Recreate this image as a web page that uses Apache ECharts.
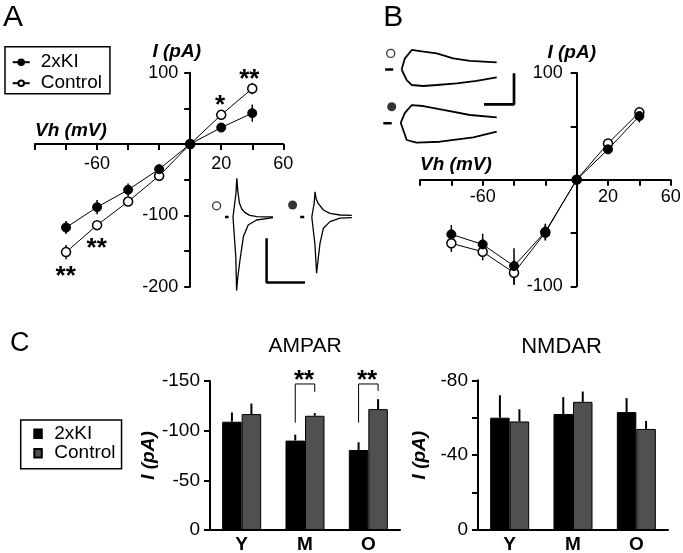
<!DOCTYPE html>
<html>
<head>
<meta charset="utf-8">
<script src="https://cdn.jsdelivr.net/npm/echarts@6/dist/echarts.min.js"></script>
<style>
html,body{margin:0;padding:0;background:#fff;}
#chart{width:683px;height:553px;}
</style>
</head>
<body>
<div id="chart"></div>
<script>
// ---------- Panel A: I-V (AMPAR) ----------
const A_VH = [-80, -60, -40, -20, 0, 20, 40];
const A_KI = [-117, -88.5, -64.2, -35.2, 0, 23.1, 43.3];
const A_KI_ERR = [9, 10, 9, 6, 2, 5, 12];
const A_CTRL = [-151.5, -113.7, -80.6, -44.6, 0, 40.9, 77.8];
const A_CTRL_ERR = [10, 5, 5, 4, 2, 5, 8];
const A_X_LABELS = [-60, 20, 60];
const A_Y_LABELS = [100, -100, -200];

// Panel A inset traces (time ms, current pA)
const A_CTRL_UP = [[7,0],[7.5,3],[7.75,120],[7.95,193],[8.2,130],[8.6,70],[9.2,40],[10,22],[11.2,8],[13,2],[17,0]];
const A_CTRL_DN = [[7,0],[7.5,-5],[7.7,-200],[7.9,-368],[8.2,-300],[8.75,-215],[9.6,-98],[10.8,-40],[12.9,-15],[16.25,-6],[17,-3]];
const A_KI_UP = [[26.7,0],[27.1,3],[27.3,70],[27.5,126],[27.8,90],[28.3,68],[29.6,35],[31.25,18],[33.75,10],[36.7,8]];
const A_KI_DN = [[26.7,0],[27.2,-5],[27.5,-140],[27.9,-281],[28.3,-210],[28.75,-132],[29.6,-56],[31.25,-23],[33.75,-6],[36.7,-3]];
const A_CTRL_MARK = [[2.9, 56]];
const A_KI_MARK = [[21.9, 60]];
const A_CTRL_STIM = [[5.0, 0], [5.9, 0]];
const A_KI_STIM = [[23.8, 0], [24.8, 0]];
const A_SCALE = [[15.4, -106], [15.4, -328], [25, -328]];

// ---------- Panel B: I-V (NMDAR) ----------
const B_VH = [-80, -60, -40, -20, 0, 20, 40];
const B_KI = [-51.3, -60.7, -81, -48.8, 0, 28.4, 59.6];
const B_KI_ERR = [8.7, 10, 16.6, 7.5, 2, 3, 6];
const B_CTRL = [-59.7, -67.6, -87.3, -49.6, 0, 34, 63.1];
const B_CTRL_ERR = [8, 8, 11.5, 7.5, 2, 3, 5];
const B_X_LABELS = [-60, 20, 60];
const B_Y_LABELS = [100, -100];

// Panel B inset traces (time ms, current pA)
const B_CTRL_UP = [[72,0],[83,18],[106,31.5],[133,29.8],[189,26],[244,18],[300,14],[389,11.6]];
const B_CTRL_DN = [[72,0],[89,-17],[106,-25],[144,-26.6],[189,-25],[256,-22.3],[322,-18.5],[389,-12.6]];
const B_KI_UP = [[69,-86],[83,-70],[106,-57.3],[144,-58.9],[211,-65.3],[300,-73.4],[389,-77.1]];
const B_KI_DN = [[69,-86],[89,-113.7],[122,-118.1],[200,-116.5],[311,-109.4],[389,-100.3]];
const B_CTRL_MARK = [[35.7, 26]];
const B_KI_MARK = [[39, -60]];
const B_CTRL_STIM = [[17, 0], [44, 0]];
const B_KI_STIM = [[11, -86.8], [39, -86.8]];
const B_SCALE = [[346.7, -56.1], [446.7, -56.1], [446.7, -6.1]];

// ---------- Panel C: bar charts ----------
const C_CATS = ['Y', 'M', 'O'];
const AMPAR_KI = [-109, -90, -80.5];
const AMPAR_KI_ERR = [9.3, 6, 7.8];
const AMPAR_CTRL = [-116.7, -115, -121.7];
const AMPAR_CTRL_ERR = [10.6, 2.7, 10];
const AMPAR_BRACKETS = [[1, -108, -147, -139], [2, -108, -147, -140]]; // [cat, leftLeg, top, rightLeg]
const AMPAR_Y_LABELS = [-150, -100, -50, 0];
const NMDAR_KI = [-60, -62, -63];
const NMDAR_KI_ERR = [12, 9, 7.5];
const NMDAR_CTRL = [-58, -68.5, -54];
const NMDAR_CTRL_ERR = [6.5, 5.5, 4.3];
const NMDAR_Y_LABELS = [-80, -40, 0];

const FONT = 'Liberation Sans, Arial, Helvetica, sans-serif';
const BAR_W = 19.5;
const GREY = '#505050';

// grid boxes for the I-V plots
const GA = { left: 35, top: 72.7, width: 248.3, height: 214 };
const GB = { left: 420, top: 73, width: 250.7, height: 213.3 };
const A_XR = [-100, 60], A_YR = [-200, 100];
const B_XR = [-100, 60], B_YR = [-100, 100];

const pairs = (xs, ys) => xs.map((x, i) => [x, ys[i]]);
const triples = (xs, ys, es) => xs.map((x, i) => [x, ys[i], es[i]]);
// axis offsets so that each axis crosses the other one at zero
const xOffset = (g, yr) => -g.height * (0 - yr[0]) / (yr[1] - yr[0]);
const yOffset = (g, xr) => -g.width * (0 - xr[0]) / (xr[1] - xr[0]);

function errRender(params, api) {
  const x = api.value(0), y = api.value(1), e = api.value(2);
  const a = api.coord([x, y - e]), b = api.coord([x, y + e]);
  return { type: 'line', shape: { x1: a[0], y1: a[1], x2: b[0], y2: b[1] },
           style: { stroke: '#000', lineWidth: 1.5 } };
}
function barErrRender(offset) {
  return function (params, api) {
    const c = api.value(0), v = api.value(1), e = api.value(2);
    const p0 = api.coord([c, v]), p1 = api.coord([c, v - e]);
    const x = p0[0] + offset;
    return { type: 'line', shape: { x1: x, y1: p0[1], x2: x, y2: p1[1] },
             style: { stroke: '#000', lineWidth: 2 } };
  };
}
function bracketRender(params, api) {
  const c = api.value(0);
  const l = api.coord([c, api.value(1)]);
  const t = api.coord([c, api.value(2)]);
  const r = api.coord([c, api.value(3)]);
  const h = BAR_W / 2;
  return { type: 'polyline',
           shape: { points: [[l[0] - h, l[1]], [l[0] - h, t[1]], [l[0] + h, t[1]], [l[0] + h, r[1]]] },
           style: { stroke: '#000', lineWidth: 1, fill: null } };
}

function ivXAxis(grid, range, labels, margin, offset) {
  return {
    gridIndex: grid, type: 'value', min: range[0], max: range[1], interval: 20,
    position: 'bottom', offset: offset,
    axisLine: { onZero: false, lineStyle: { color: '#000', width: 2 } },
    axisTick: { show: true, length: 6, lineStyle: { color: '#000', width: 2 } },
    axisLabel: { margin: margin, fontSize: 18, color: '#000', fontFamily: FONT,
                 formatter: v => labels.indexOf(v) >= 0 ? String(v) : '' },
    splitLine: { show: false }
  };
}
function ivYAxis(grid, range, labels, margin, offset) {
  return {
    gridIndex: grid, type: 'value', min: range[0], max: range[1], interval: 50,
    position: 'left', offset: offset,
    axisLine: { show: true, onZero: false, lineStyle: { color: '#000', width: 2 } },
    axisTick: { show: true, length: 6, lineStyle: { color: '#000', width: 2 } },
    axisLabel: { margin: margin, fontSize: 18, color: '#000', fontFamily: FONT,
                 formatter: v => labels.indexOf(v) >= 0 ? String(v) : '' },
    splitLine: { show: false }
  };
}
function hiddenAxis(grid, min, max) {
  return { gridIndex: grid, type: 'value', min: min, max: max, show: false, splitLine: { show: false } };
}
function barXAxis(grid) {
  return {
    gridIndex: grid, type: 'category', data: C_CATS,
    axisLine: { lineStyle: { color: '#000', width: 2 } },
    axisTick: { show: false },
    axisLabel: { margin: 5, fontSize: 19, fontWeight: 'bold', color: '#000', fontFamily: FONT }
  };
}
function barYAxis(grid, min, interval, labels) {
  return {
    gridIndex: grid, type: 'value', inverse: true, min: min, max: 0, interval: interval,
    name: 'I (pA)', nameLocation: 'middle', nameRotate: 90, nameGap: 49,
    nameTextStyle: { fontSize: 19, fontWeight: 'bold', fontStyle: 'italic', color: '#000', fontFamily: FONT },
    axisLine: { show: true, lineStyle: { color: '#000', width: 2 } },
    axisTick: { show: true, length: 6, lineStyle: { color: '#000', width: 2 } },
    axisLabel: { margin: 10, fontSize: 19, color: '#000', fontFamily: FONT,
                 formatter: v => labels.indexOf(v) >= 0 ? String(v) : '' },
    splitLine: { show: false }
  };
}
function trace(name, data, xi, width) {
  return { name: name, type: 'line', xAxisIndex: xi, yAxisIndex: xi, data: data,
           symbol: 'none', lineStyle: { color: '#000', width: width || 1.3 }, z: 3, silent: true };
}
function marker(name, data, xi, filled, size) {
  return { name: name, type: 'scatter', xAxisIndex: xi, yAxisIndex: xi, data: data,
           symbol: 'circle', symbolSize: size,
           itemStyle: filled ? { color: '#000' } : { color: '#fff', borderColor: '#000', borderWidth: 1.3 }, z: 3 };
}
function txt(x, y, text, font, align) {
  return { type: 'text', x: x, y: y,
           style: { text: text, font: font, fill: '#000', align: align || 'left', verticalAlign: 'middle' } };
}
const gridOf = g => Object.assign({ outerBoundsMode: 'none', containLabel: false }, g);

const chart = echarts.init(document.getElementById('chart'), null, { renderer: 'canvas' });

const option = {
  animation: false,
  backgroundColor: '#fff',
  textStyle: { fontFamily: FONT },
  grid: [
    gridOf(GA),
    gridOf({ left: 205, top: 175, width: 150, height: 120 }),
    gridOf(GB),
    gridOf({ left: 380, top: 38.5, width: 150, height: 124 }),
    gridOf({ left: 210, top: 381, width: 190, height: 149 }),
    gridOf({ left: 478, top: 380.3, width: 190, height: 149.7 })
  ],
  xAxis: [
    ivXAxis(0, A_XR, A_X_LABELS, 11, xOffset(GA, A_YR)),
    hiddenAxis(1, 0, 37.5),
    ivXAxis(2, B_XR, B_X_LABELS, 8.5, xOffset(GB, B_YR)),
    hiddenAxis(3, 0, 500),
    barXAxis(4),
    barXAxis(5)
  ],
  yAxis: [
    ivYAxis(0, A_YR, A_Y_LABELS, 12, yOffset(GA, A_XR)),
    hiddenAxis(1, -390, 210),
    ivYAxis(2, B_YR, B_Y_LABELS, 14, yOffset(GB, B_XR)),
    hiddenAxis(3, -150, 50),
    barYAxis(4, -150, 50, AMPAR_Y_LABELS),
    barYAxis(5, -80, 20, NMDAR_Y_LABELS)
  ],
  legend: [
    {
      data: ['2xKI', 'Control'], orient: 'vertical', left: 5, top: 46.7,
      itemWidth: 17, itemHeight: 7, itemGap: 2, padding: [6, 8, 1, 6.7],
      borderColor: '#000', borderWidth: 1.5, selectedMode: false,
      textStyle: { fontSize: 19, color: '#000', lineHeight: 18, padding: [0, 0, 0, 6], fontFamily: FONT }
    },
    {
      data: ['C-2xKI', 'C-Control'], orient: 'vertical', left: 20.7, top: 420,
      icon: 'rect', itemWidth: 7.5, itemHeight: 8.5, itemGap: 0.4, padding: [4.3, 6, 6, 12.6],
      borderColor: '#000', borderWidth: 1.5, selectedMode: false,
      formatter: n => n.replace(/^C-/, ''),
      textStyle: { fontSize: 19, color: '#000', lineHeight: 18, padding: [0, 0, 0, 7.5], fontFamily: FONT }
    }
  ],
  graphic: [
    txt(3, 17.5, 'A', '30px ' + FONT),
    txt(383.3, 17.5, 'B', '30px ' + FONT),
    txt(10, 344, 'C', '27px ' + FONT),
    txt(176.7, 51.7, 'I (pA)', 'italic bold 19px ' + FONT, 'center'),
    txt(35, 131, 'Vh (mV)', 'italic bold 19px ' + FONT),
    txt(571.7, 52.4, 'I (pA)', 'italic bold 19px ' + FONT, 'center'),
    txt(420, 165, 'Vh (mV)', 'italic bold 19px ' + FONT),
    txt(305, 346.7, 'AMPAR', '21px ' + FONT, 'center'),
    txt(561.5, 346.7, 'NMDAR', '22px ' + FONT, 'center'),
    txt(249.3, 79.5, '**', 'bold 26px ' + FONT, 'center'),
    txt(220, 105.5, '*', 'bold 26px ' + FONT, 'center'),
    txt(96.7, 248.8, '**', 'bold 26px ' + FONT, 'center'),
    txt(65.7, 277.2, '**', 'bold 26px ' + FONT, 'center'),
    txt(304, 380.5, '**', 'bold 26px ' + FONT, 'center'),
    txt(367, 380.5, '**', 'bold 26px ' + FONT, 'center')
  ],
  series: [
    // Panel A
    { name: 'A-ctrl-err', type: 'custom', xAxisIndex: 0, yAxisIndex: 0, renderItem: errRender,
      data: triples(A_VH, A_CTRL, A_CTRL_ERR), encode: { x: 0, y: 1 }, z: 1, silent: true },
    { name: 'A-ki-err', type: 'custom', xAxisIndex: 0, yAxisIndex: 0, renderItem: errRender,
      data: triples(A_VH, A_KI, A_KI_ERR), encode: { x: 0, y: 1 }, z: 1, silent: true },
    { name: 'Control', type: 'line', xAxisIndex: 0, yAxisIndex: 0, data: pairs(A_VH, A_CTRL),
      symbol: 'circle', symbolSize: 9, lineStyle: { color: '#000', width: 1 },
      itemStyle: { color: '#fff', borderColor: '#000', borderWidth: 1.5 }, z: 2 },
    { name: '2xKI', type: 'line', xAxisIndex: 0, yAxisIndex: 0, data: pairs(A_VH, A_KI),
      symbol: 'circle', symbolSize: 9, lineStyle: { color: '#000', width: 1 },
      itemStyle: { color: '#000', borderColor: '#000', borderWidth: 1 }, z: 2 },
    // Panel A inset
    trace('a-ctrl-up', A_CTRL_UP, 1), trace('a-ctrl-dn', A_CTRL_DN, 1),
    trace('a-ki-up', A_KI_UP, 1), trace('a-ki-dn', A_KI_DN, 1),
    trace('a-ctrl-stim', A_CTRL_STIM, 1, 2.5), trace('a-ki-stim', A_KI_STIM, 1, 2.5),
    trace('a-scale', A_SCALE, 1, 2.5),
    marker('a-ctrl-mark', A_CTRL_MARK, 1, false, 8), marker('a-ki-mark', A_KI_MARK, 1, true, 9),
    // Panel B
    { name: 'B-ctrl-err', type: 'custom', xAxisIndex: 2, yAxisIndex: 2, renderItem: errRender,
      data: triples(B_VH, B_CTRL, B_CTRL_ERR), encode: { x: 0, y: 1 }, z: 1, silent: true },
    { name: 'B-ki-err', type: 'custom', xAxisIndex: 2, yAxisIndex: 2, renderItem: errRender,
      data: triples(B_VH, B_KI, B_KI_ERR), encode: { x: 0, y: 1 }, z: 1, silent: true },
    { name: 'B-Control', type: 'line', xAxisIndex: 2, yAxisIndex: 2, data: pairs(B_VH, B_CTRL),
      symbol: 'circle', symbolSize: 9, lineStyle: { color: '#000', width: 1 },
      itemStyle: { color: '#fff', borderColor: '#000', borderWidth: 1.5 }, z: 2 },
    { name: 'B-2xKI', type: 'line', xAxisIndex: 2, yAxisIndex: 2, data: pairs(B_VH, B_KI),
      symbol: 'circle', symbolSize: 9, lineStyle: { color: '#000', width: 1 },
      itemStyle: { color: '#000', borderColor: '#000', borderWidth: 1 }, z: 2 },
    // Panel B inset
    trace('b-ctrl-up', B_CTRL_UP, 3, 1.8), trace('b-ctrl-dn', B_CTRL_DN, 3, 1.8),
    trace('b-ki-up', B_KI_UP, 3, 1.8), trace('b-ki-dn', B_KI_DN, 3, 1.8),
    trace('b-ctrl-stim', B_CTRL_STIM, 3, 2.5), trace('b-ki-stim', B_KI_STIM, 3, 2.5),
    trace('b-scale', B_SCALE, 3, 2.7),
    marker('b-ctrl-mark', B_CTRL_MARK, 3, false, 8), marker('b-ki-mark', B_KI_MARK, 3, true, 9),
    // Panel C - AMPAR
    { name: 'C-2xKI', type: 'bar', xAxisIndex: 4, yAxisIndex: 4, data: AMPAR_KI,
      barWidth: BAR_W, barGap: '0%', itemStyle: { color: '#000', borderColor: '#000', borderWidth: 1 } },
    { name: 'C-Control', type: 'bar', xAxisIndex: 4, yAxisIndex: 4, data: AMPAR_CTRL,
      barWidth: BAR_W, barGap: '0%', itemStyle: { color: GREY, borderColor: '#000', borderWidth: 1 } },
    { name: 'ampar-ki-err', type: 'custom', xAxisIndex: 4, yAxisIndex: 4, renderItem: barErrRender(-BAR_W / 2),
      data: triples([0, 1, 2], AMPAR_KI, AMPAR_KI_ERR), encode: { x: 0, y: 1 }, z: 3, silent: true },
    { name: 'ampar-ctrl-err', type: 'custom', xAxisIndex: 4, yAxisIndex: 4, renderItem: barErrRender(BAR_W / 2),
      data: triples([0, 1, 2], AMPAR_CTRL, AMPAR_CTRL_ERR), encode: { x: 0, y: 1 }, z: 3, silent: true },
    { name: 'ampar-brackets', type: 'custom', xAxisIndex: 4, yAxisIndex: 4, renderItem: bracketRender,
      data: AMPAR_BRACKETS, encode: { x: 0, y: 2 }, z: 3, silent: true },
    // Panel C - NMDAR
    { name: 'N-2xKI', type: 'bar', xAxisIndex: 5, yAxisIndex: 5, data: NMDAR_KI,
      barWidth: BAR_W, barGap: '0%', itemStyle: { color: '#000', borderColor: '#000', borderWidth: 1 } },
    { name: 'N-Control', type: 'bar', xAxisIndex: 5, yAxisIndex: 5, data: NMDAR_CTRL,
      barWidth: BAR_W, barGap: '0%', itemStyle: { color: GREY, borderColor: '#000', borderWidth: 1 } },
    { name: 'nmdar-ki-err', type: 'custom', xAxisIndex: 5, yAxisIndex: 5, renderItem: barErrRender(-BAR_W / 2),
      data: triples([0, 1, 2], NMDAR_KI, NMDAR_KI_ERR), encode: { x: 0, y: 1 }, z: 3, silent: true },
    { name: 'nmdar-ctrl-err', type: 'custom', xAxisIndex: 5, yAxisIndex: 5, renderItem: barErrRender(BAR_W / 2),
      data: triples([0, 1, 2], NMDAR_CTRL, NMDAR_CTRL_ERR), encode: { x: 0, y: 1 }, z: 3, silent: true }
  ]
};
chart.setOption(option);
</script>
</body>
</html>
